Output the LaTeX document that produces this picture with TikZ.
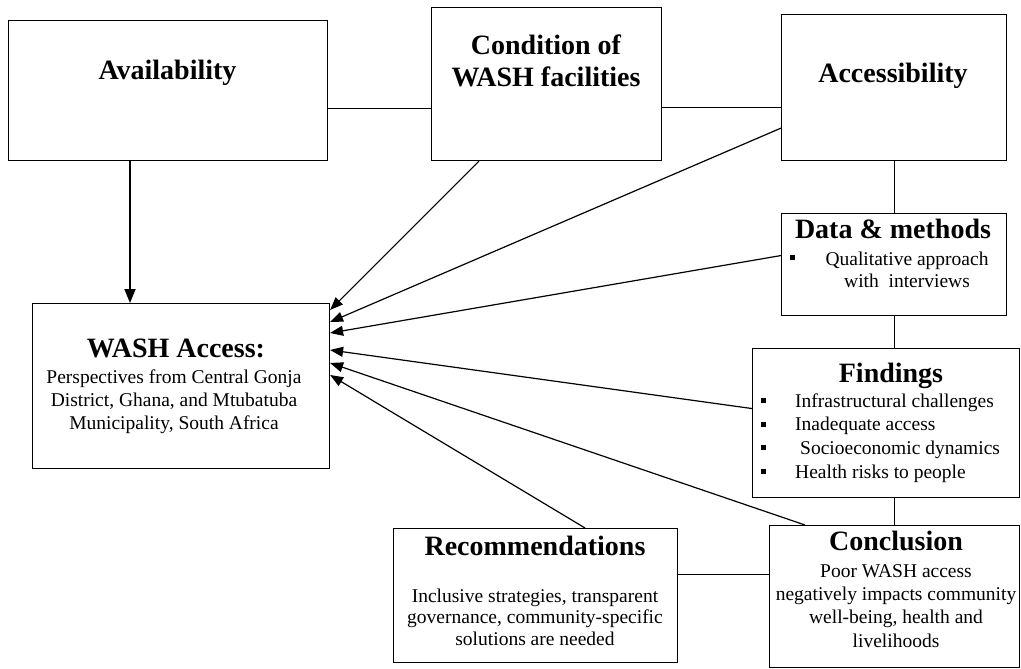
\documentclass[tikz,border=0pt]{standalone}
\usepackage{fontspec}
\setmainfont{Liberation Serif}
\usetikzlibrary{arrows.meta}
\newcommand{\tfont}{\fontsize{28}{32}\selectfont\bfseries}
\newcommand{\bfnt}{\fontsize{19.5}{23}\selectfont}
\begin{document}
\begin{tikzpicture}[x=1pt,y=-1pt,
  box/.style={draw, line width=1.1pt, inner sep=0pt, anchor=north west},
  ttl/.style={font=\tfont, anchor=base, inner sep=0pt},
  body/.style={font=\bfnt, anchor=base, inner sep=0pt},
  bodyl/.style={font=\bfnt, anchor=base west, inner sep=0pt},
  bul/.style={fill, inner sep=0pt, minimum size=5pt},
  conn/.style={line width=1.1pt},
  arr/.style={line width=1.2pt, -{Triangle[length=13pt,width=10pt]}},
  arrthick/.style={line width=1.8pt, -{Triangle[length=14pt,width=11pt]}},
]
\path[fill=white, use as bounding box] (0,0) rectangle (1021,669);

% boxes
\node[box, minimum width=319pt, minimum height=140pt] (avail) at (8,20) {};
\node[box, minimum width=230pt, minimum height=153pt] (cond) at (431,7) {};
\node[box, minimum width=225pt, minimum height=146pt] (acc) at (781,14) {};
\node[box, minimum width=225pt, minimum height=102pt] (data) at (781,213) {};
\node[box, minimum width=267pt, minimum height=149pt] (find) at (752,348) {};
\node[box, minimum width=250pt, minimum height=142pt] (concl) at (769,525) {};
\node[box, minimum width=284pt, minimum height=134pt] (recs) at (393,528) {};
\node[box, minimum width=297pt, minimum height=165pt] (wash) at (32,303) {};

% texts
\node[ttl] (availt) at (167.5,80) {Availability};
\node[ttl] (condt1) at (546,55) {Condition of};
\node[ttl] (condt2) at (546,87) {WASH facilities};
\node[ttl] (acct) at (893,83) {Accessibility};

\node[ttl] (datat) at (893,238) {Data \& methods};
\node[bul] (datab) at (792,257) {};
\node[body] (datal1) at (907,265) {Qualitative approach};
\node[body] (datal2) at (907,287) {with\ \ interviews};

\node[ttl] (findt) at (891,382) {Findings};
\node[bul] (fb1) at (763,400) {};
\node[bul] (fb2) at (763,424) {};
\node[bul] (fb3) at (763,447) {};
\node[bul] (fb4) at (763,471) {};
\node[bodyl] (fl1) at (795,407) {Infrastructural challenges};
\node[bodyl] (fl2) at (795,430) {Inadequate access};
\node[bodyl] (fl3) at (800,454) {Socioeconomic dynamics};
\node[bodyl] (fl4) at (795,478) {Health risks to people};

\node[ttl] (conclt) at (896,550) {Conclusion};
\node[body] (cl1) at (896,577) {Poor WASH access};
\node[body] (cl2) at (896,600) {negatively impacts community};
\node[body] (cl3) at (896,623) {well-being, health and};
\node[body] (cl4) at (896,647) {livelihoods};

\node[ttl] (recst) at (535,555) {Recommendations};
\node[body] (rl1) at (535,602) {Inclusive strategies, transparent};
\node[body] (rl2) at (535,623) {governance, community-specific};
\node[body] (rl3) at (535,645) {solutions are needed};

\node[ttl] (washt) at (176,357) {WASH Access:};
\node[body] (wl1) at (174,383) {Perspectives from Central Gonja};
\node[body] (wl2) at (174,406) {District, Ghana, and Mtubatuba};
\node[body] (wl3) at (174,429) {Municipality, South Africa};

% plain connectors
\draw[conn] ([yshift=-18pt]avail.east) -- ([yshift=-18pt]avail.east -| cond.west);
\draw[conn] ([yshift=-23.5pt]cond.east) -- ([yshift=-23.5pt]cond.east -| acc.west);
\draw[conn] (acc.south) -- (data.north);
\draw[conn] (data.south) -- (data.south |- find.north);
\draw[conn] (concl.north |- find.south) -- (concl.north);
\draw[conn] ([yshift=21pt]recs.east) -- ([yshift=21pt]recs.east -| concl.west);

% arrows
\draw[arrthick] ([xshift=122pt]avail.south west) -- ([xshift=122pt]avail.south west |- wash.north);
\draw[arr] ([xshift=48pt]cond.south west) -- ([yshift=-7pt]wash.north east);
\draw[arr] ([yshift=33pt]acc.south west) -- ([yshift=-19pt]wash.north east);
\draw[arr] ([yshift=9pt]data.west) -- ([yshift=-30pt]wash.north east);
\draw[arr] ([yshift=14.5pt]find.west) -- ([yshift=-47pt]wash.north east);
\draw[arr] ([xshift=36pt]concl.north west) -- ([yshift=-60pt]wash.north east);
\draw[arr] ([xshift=192pt]recs.north west) -- ([yshift=-72pt]wash.north east);
\end{tikzpicture}
\end{document}
